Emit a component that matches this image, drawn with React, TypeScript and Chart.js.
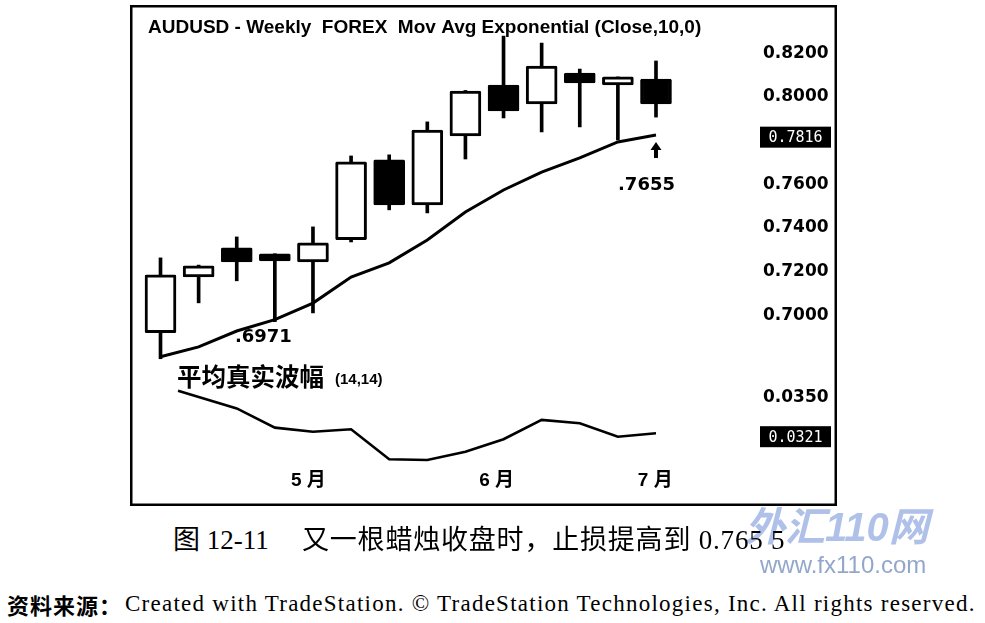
import React, { useEffect, useRef } from "react";
import { Chart, registerables } from "chart.js";

Chart.register(...registerables);

// ---- data (weekly AUDUSD candles, index 0..13) ----
const weeks = [0, 1, 2, 3, 4, 5, 6, 7, 8, 9, 10, 11, 12, 13];
const opens = [0.692, 0.7176, 0.7309, 0.7282, 0.7245, 0.7346, 0.7712, 0.7506, 0.7822, 0.8055, 0.7968, 0.811, 0.8055, 0.8082];
const highs = [0.7263, 0.723, 0.7359, 0.7282, 0.7405, 0.773, 0.7735, 0.7886, 0.803, 0.8279, 0.8247, 0.8128, 0.8092, 0.8165];
const lows = [0.6801, 0.7057, 0.7158, 0.6971, 0.7011, 0.7336, 0.7483, 0.7469, 0.7716, 0.7904, 0.784, 0.7863, 0.7803, 0.7908];
const closes = [0.7185, 0.7227, 0.7245, 0.7249, 0.7332, 0.7703, 0.7506, 0.7849, 0.8027, 0.7936, 0.8142, 0.8064, 0.8092, 0.7968];
const emaValues = [0.681, 0.6855, 0.6928, 0.698, 0.7056, 0.7175, 0.724, 0.7345, 0.7473, 0.7574, 0.7656, 0.7721, 0.7794, 0.7826];

const atrWeeks = [0.46, 2, 3, 4, 5, 6, 7, 8, 9, 10, 11, 12, 13];
const atrValues = [0.0355, 0.03419, 0.03277, 0.03247, 0.03265, 0.03043, 0.03038, 0.03099, 0.03191, 0.03334, 0.03309, 0.0321, 0.03235];

const priceTicks = [0.7, 0.72, 0.74, 0.76, 0.8, 0.82];
const atrTicks = [0.035];
const monthTickWeeks = [3.88, 8.82, 12.98];
const monthLabels = ["5 月", "6 月", "7 月"];

const lastEmaLabel = 0.7816;
const lastAtrLabel = 0.0321;
const lowNoteWeek = 3;
const lowNoteValue = 0.6971;
const stopNoteWeek = 13;
const stopNoteText = ".7655";

const titleText = "AUDUSD - Weekly  FOREX  Mov Avg Exponential (Close,10,0)";
const atrTitle = "平均真实波幅";
const atrParams = "(14,14)";

const BOLD_NUM = '"DejaVu Sans", "Liberation Sans", sans-serif';
const SANS = '"Liberation Sans", Arial, "Noto Sans CJK SC", sans-serif';

const overlayPlugin = {
  id: "overlay",
  afterDraw(chart: any) {
    const { ctx, scales, chartArea } = chart;
    const xs = scales.x;
    const ys = scales.y;
    const ys2 = scales.y2;
    ctx.save();
    // frame
    ctx.strokeStyle = "#000";
    ctx.lineWidth = 2.5;
    ctx.strokeRect(1.25, 1.25, chart.width - 2.5, chart.height - 2.5);

    // title
    ctx.fillStyle = "#000";
    ctx.textBaseline = "middle";
    ctx.textAlign = "left";
    ctx.font = `bold 19px ${SANS}`;
    ctx.fillText(titleText, 18, 23);

    // ATR title
    ctx.font = 'bold 24.5px "Noto Sans CJK SC", sans-serif';
    ctx.fillText(atrTitle, 47, ys2.top + 7);
    ctx.font = `bold 15px ${SANS}`;
    ctx.fillText(atrParams, 205, ys2.top + 10);

    // last value markers
    const marker = (scale: any, v: number) => {
      const py = scale.getPixelForValue(v);
      const left = chartArea.right + 4;
      ctx.fillStyle = "#000";
      ctx.fillRect(left, py - 10.5, 71, 21);
      ctx.fillStyle = "#fff";
      ctx.font = '15px "DejaVu Sans Mono", monospace';
      ctx.textAlign = "center";
      ctx.fillText(v.toFixed(4), left + 35.5, py + 1);
    };
    marker(ys, lastEmaLabel);
    marker(ys2, lastAtrLabel);

    // low annotation
    ctx.fillStyle = "#000";
    ctx.textAlign = "center";
    ctx.font = `bold 18px ${BOLD_NUM}`;
    const lx = xs.getPixelForValue(lowNoteWeek);
    const ly = ys.getPixelForValue(lowNoteValue);
    ctx.fillText("." + lowNoteValue.toFixed(4).slice(2), lx - 11.5, ly + 16);

    // stop arrow + label
    const sx = xs.getPixelForValue(stopNoteWeek);
    const tipY = ys.getPixelForValue(emaValues[emaValues.length - 1]) + 7;
    ctx.beginPath();
    ctx.moveTo(sx, tipY);
    ctx.lineTo(sx + 5.5, tipY + 8);
    ctx.lineTo(sx - 5.5, tipY + 8);
    ctx.closePath();
    ctx.fill();
    ctx.fillRect(sx - 2, tipY + 7, 4, 9);
    ctx.fillText(stopNoteText, sx - 9.5, tipY + 43);
    ctx.restore();
  },
};

const noPadY = (width: number) => (scale: any) => {
  scale.width = width;
  scale.paddingTop = 0;
  scale.paddingBottom = 0;
};

export default function App() {
  const canvasRef = useRef<HTMLCanvasElement | null>(null);

  useEffect(() => {
    if (!canvasRef.current) return;
    const bodyData = weeks.map((w, i) => ({ x: w, y: [opens[i], closes[i]] }));
    const wickData = weeks.map((w, i) => ({ x: w, y: [lows[i], highs[i]] }));
    const emaData = weeks.map((w, i) => ({ x: w, y: emaValues[i] }));
    const atrData = atrWeeks.map((w, i) => ({ x: w, y: atrValues[i] }));

    const chart = new Chart(canvasRef.current, {
      type: "bar",
      data: {
        datasets: [
          {
            type: "line",
            data: emaData,
            yAxisID: "y",
            borderColor: "#000",
            borderWidth: 3,
            pointRadius: 0,
            tension: 0,
            order: 1,
          } as any,
          {
            type: "line",
            data: atrData,
            yAxisID: "y2",
            borderColor: "#000",
            borderWidth: 2.6,
            pointRadius: 0,
            tension: 0,
            order: 1,
          } as any,
          {
            type: "bar",
            data: bodyData,
            yAxisID: "y",
            grouped: false,
            barThickness: 31,
            backgroundColor: weeks.map((_, i) => (closes[i] >= opens[i] ? "#fff" : "#000")),
            borderColor: "#000",
            borderWidth: 3,
            borderSkipped: false,
            borderRadius: 1.5,
            order: 2,
          } as any,
          {
            type: "bar",
            data: wickData,
            yAxisID: "y",
            grouped: false,
            barThickness: 3,
            backgroundColor: "#000",
            borderWidth: 0,
            order: 3,
          } as any,
        ],
      },
      options: {
        animation: false,
        responsive: false,
        layout: { padding: { top: 3, left: 2, right: 0, bottom: 0 } },
        plugins: { legend: { display: false }, tooltip: { enabled: false } },
        scales: {
          x: {
            type: "linear",
            min: -0.748,
            max: 15.624,
            offset: false,
            grid: { display: false, drawTicks: false },
            border: { display: false },
            afterBuildTicks: (scale: any) => {
              scale.ticks = monthTickWeeks.map((v) => ({ value: v }));
            },
            afterFit: (scale: any) => {
              scale.height = 41;
              scale.paddingLeft = 0;
              scale.paddingRight = 0;
            },
            ticks: {
              autoSkip: false,
              maxRotation: 0,
              padding: 4,
              color: "#000",
              font: { family: SANS, size: 19, weight: "bold" },
              callback: (_v: any, index: number) => monthLabels[index],
            },
          },
          y: {
            type: "linear",
            position: "right",
            stack: "panes",
            stackWeight: 362,
            min: 0.67494,
            max: 0.84077,
            grid: { display: false, drawTicks: false },
            border: { display: false },
            afterBuildTicks: (scale: any) => {
              scale.ticks = priceTicks.map((v) => ({ value: v }));
            },
            afterFit: noPadY(81),
            ticks: {
              padding: 7,
              color: "#000",
              font: { family: BOLD_NUM, size: 17, weight: "bold" },
              callback: (v: any) => Number(v).toFixed(4),
            },
          },
          y2: {
            type: "linear",
            position: "right",
            stack: "panes",
            stackWeight: 95,
            min: 0.030006,
            max: 0.037034,
            grid: { display: false, drawTicks: false },
            border: { display: false },
            afterBuildTicks: (scale: any) => {
              scale.ticks = atrTicks.map((v) => ({ value: v }));
            },
            afterFit: noPadY(81),
            ticks: {
              padding: 7,
              color: "#000",
              font: { family: BOLD_NUM, size: 17, weight: "bold" },
              callback: (v: any) => Number(v).toFixed(4),
            },
          },
        },
      } as any,
      plugins: [overlayPlugin],
    });
    return () => chart.destroy();
  }, []);

  return (
    <div
      style={{
        position: "absolute",
        left: 0,
        top: 0,
        width: 985,
        height: 623,
        background: "#fff",
        overflow: "hidden",
      }}
    >
      <canvas
        ref={canvasRef}
        width={707}
        height={501}
        style={{ position: "absolute", left: 130, top: 5, width: 707, height: 501 }}
      />
      <div
        style={{
          position: "absolute",
          left: 745,
          top: 504,
          fontSize: 40,
          fontWeight: "bold",
          fontStyle: "italic",
          color: "rgba(110,140,215,0.55)",
          fontFamily: '"Liberation Sans", "Noto Sans CJK SC", sans-serif',
          whiteSpace: "nowrap",
          lineHeight: "46px",
        }}
      >
        外汇110网
      </div>
      <div
        style={{
          position: "absolute",
          left: 760,
          top: 551,
          fontSize: 24,
          color: "rgba(120,145,190,0.8)",
          fontFamily: '"Liberation Sans", sans-serif',
          whiteSpace: "nowrap",
          lineHeight: "28px",
        }}
      >
        www.fx110.com
      </div>
      <div
        style={{
          position: "absolute",
          left: 173,
          top: 524,
          fontSize: 27,
          lineHeight: "32px",
          color: "#000",
          fontFamily: '"Liberation Serif", "Noto Sans CJK SC", serif',
          whiteSpace: "nowrap",
        }}
      >
        图 12-11
      </div>
      <div
        style={{
          position: "absolute",
          left: 302,
          top: 524,
          fontSize: 27,
          lineHeight: "32px",
          letterSpacing: "0.8px",
          color: "#000",
          fontFamily: '"Liberation Serif", "Noto Sans CJK SC", serif',
          whiteSpace: "nowrap",
        }}
      >
        又一根蜡烛收盘时，止损提高到 0.765 5
      </div>
      <div
        style={{
          position: "absolute",
          left: 7,
          top: 591,
          fontSize: 22,
          lineHeight: "26px",
          letterSpacing: "1px",
          color: "#000",
          fontWeight: "bold",
          fontFamily: '"Noto Sans CJK SC", sans-serif',
          whiteSpace: "nowrap",
        }}
      >
        资料来源：
      </div>
      <div
        style={{
          position: "absolute",
          left: 125,
          top: 591,
          fontSize: 23,
          lineHeight: "26px",
          letterSpacing: "1.25px",
          color: "#000",
          fontFamily: '"Liberation Serif", serif',
          whiteSpace: "nowrap",
        }}
      >
        Created with TradeStation. © TradeStation Technologies, Inc. All rights reserved.
      </div>
    </div>
  );
}
